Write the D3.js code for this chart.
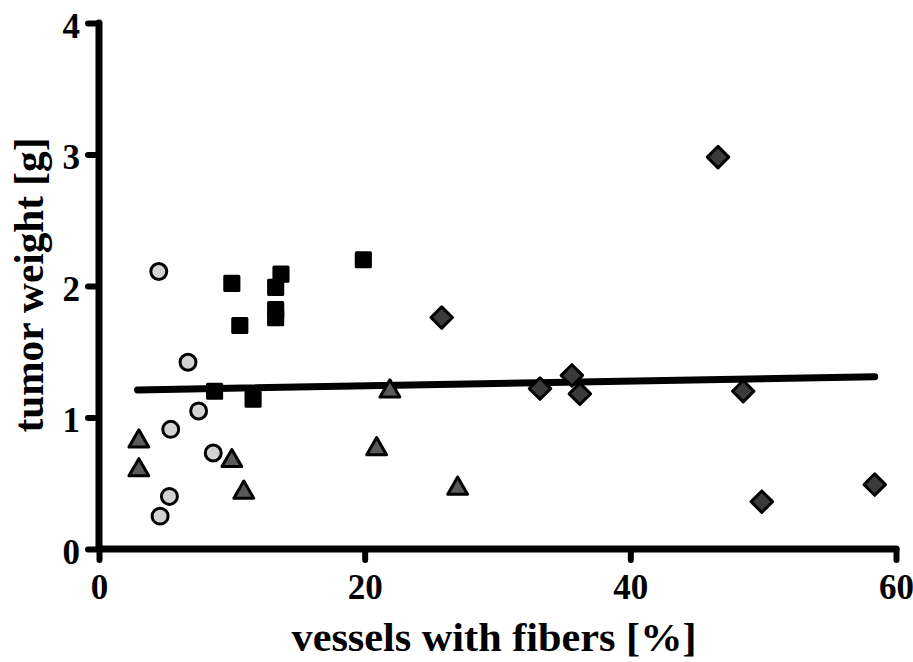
<!DOCTYPE html>
<html>
<head>
<meta charset="utf-8">
<script src="https://cdn.jsdelivr.net/npm/d3@7"></script>
<style>
  body { margin: 0; background: #fff; }
  text { font-family: "Liberation Serif", "Times New Roman", serif; font-weight: bold; }
</style>
</head>
<body>
<div id="chart"></div>
<script>
// data
var circlesX = [4.5, 6.7, 7.5, 5.4, 8.6, 5.3, 4.6];
var circlesY = [2.11, 1.42, 1.05, 0.91, 0.73, 0.40, 0.25];
var squaresX = [10.0, 13.7, 13.3, 13.3, 13.3, 10.6, 8.7, 11.6, 19.9];
var squaresY = [2.02, 2.09, 1.99, 1.82, 1.76, 1.70, 1.20, 1.14, 2.20];
var trianglesX = [3.0, 3.0, 10.0, 10.9, 20.9, 21.9, 27.0];
var trianglesY = [0.82, 0.60, 0.67, 0.43, 0.76, 1.20, 0.46];
var diamondsX = [25.8, 46.6, 33.2, 35.6, 36.2, 48.5, 49.9, 58.4];
var diamondsY = [1.76, 2.98, 1.22, 1.32, 1.18, 1.20, 0.36, 0.49];
// fit line end points
var fitX = [2.9, 58.4];
var fitY = [1.21, 1.31];
var xTicks = [0, 20, 40, 60];
var yTicks = [0, 1, 2, 3, 4];

var W = 913, H = 662;
var svg = d3.select("#chart").append("svg").attr("width", W).attr("height", H);

var x = d3.scaleLinear().domain([0, 60]).range([99, 896]);
var y = d3.scaleLinear().domain([0, 4]).range([549, 23]);

// axes
var xAxis = svg.append("g").attr("transform", "translate(0," + y(0) + ")")
  .call(d3.axisBottom(x).tickValues(xTicks).tickFormat(d3.format("d"))
    .tickSize(11).tickSizeOuter(0).tickPadding(14));
var yAxis = svg.append("g").attr("transform", "translate(" + x(0) + ",0)")
  .call(d3.axisLeft(y).tickValues(yTicks).tickFormat(d3.format("d"))
    .tickSize(11).tickSizeOuter(0).tickPadding(8));

[xAxis, yAxis].forEach(function (g) {
  g.select(".domain").remove();
  g.selectAll(".tick line").attr("stroke", "#000").attr("stroke-width", 6).attr("stroke-linecap", "round");
  g.selectAll(".tick text").style("font-size", "35px").attr("fill", "#000");
});
yAxis.selectAll(".tick text").attr("dy", "0.4em");

svg.append("line")
  .attr("x1", x(0)).attr("x2", x(60)).attr("y1", y(0)).attr("y2", y(0))
  .attr("stroke", "#000").attr("stroke-width", 7).attr("stroke-linecap", "round");
svg.append("line")
  .attr("x1", x(0)).attr("x2", x(0)).attr("y1", y(0)).attr("y2", y(4))
  .attr("stroke", "#000").attr("stroke-width", 7).attr("stroke-linecap", "round");

// axis titles
svg.append("text")
  .attr("x", 494).attr("y", 651)
  .attr("text-anchor", "middle")
  .attr("textLength", 405).attr("lengthAdjust", "spacingAndGlyphs")
  .style("font-size", "41px")
  .text("vessels with fibers [%]");
svg.append("text")
  .attr("transform", "translate(43,285) rotate(-90)")
  .attr("text-anchor", "middle")
  .attr("textLength", 295).attr("lengthAdjust", "spacingAndGlyphs")
  .style("font-size", "42px")
  .text("tumor weight [g]");

// fit line
svg.append("line")
  .attr("x1", x(fitX[0])).attr("x2", x(fitX[1]))
  .attr("y1", y(fitY[0])).attr("y2", y(fitY[1]))
  .attr("stroke", "#000").attr("stroke-width", 7).attr("stroke-linecap", "round");

function draw(xs, ys, type, size, fill, turn) {
  var sym = d3.symbol().type(type).size(size);
  svg.append("g").selectAll("path")
    .data(xs.map(function (d, i) { return [d, ys[i]]; }))
    .enter().append("path")
    .attr("d", sym)
    .attr("transform", function (d) {
      return "translate(" + x(d[0]) + "," + y(d[1]) + ")" + (turn ? " rotate(45)" : "");
    })
    .attr("fill", fill)
    .attr("stroke", "#000")
    .attr("stroke-width", 3)
    .attr("stroke-linejoin", "round");
}

draw(squaresX, squaresY, d3.symbolSquare, 200, "#000", false);
draw(circlesX, circlesY, d3.symbolCircle, 200, "#d3d3d3", false);
draw(trianglesX, trianglesY, d3.symbolTriangle, 170, "#5a5a5a", false);
draw(diamondsX, diamondsY, d3.symbolSquare, 230, "#3a3a3a", true);
</script>
</body>
</html>
